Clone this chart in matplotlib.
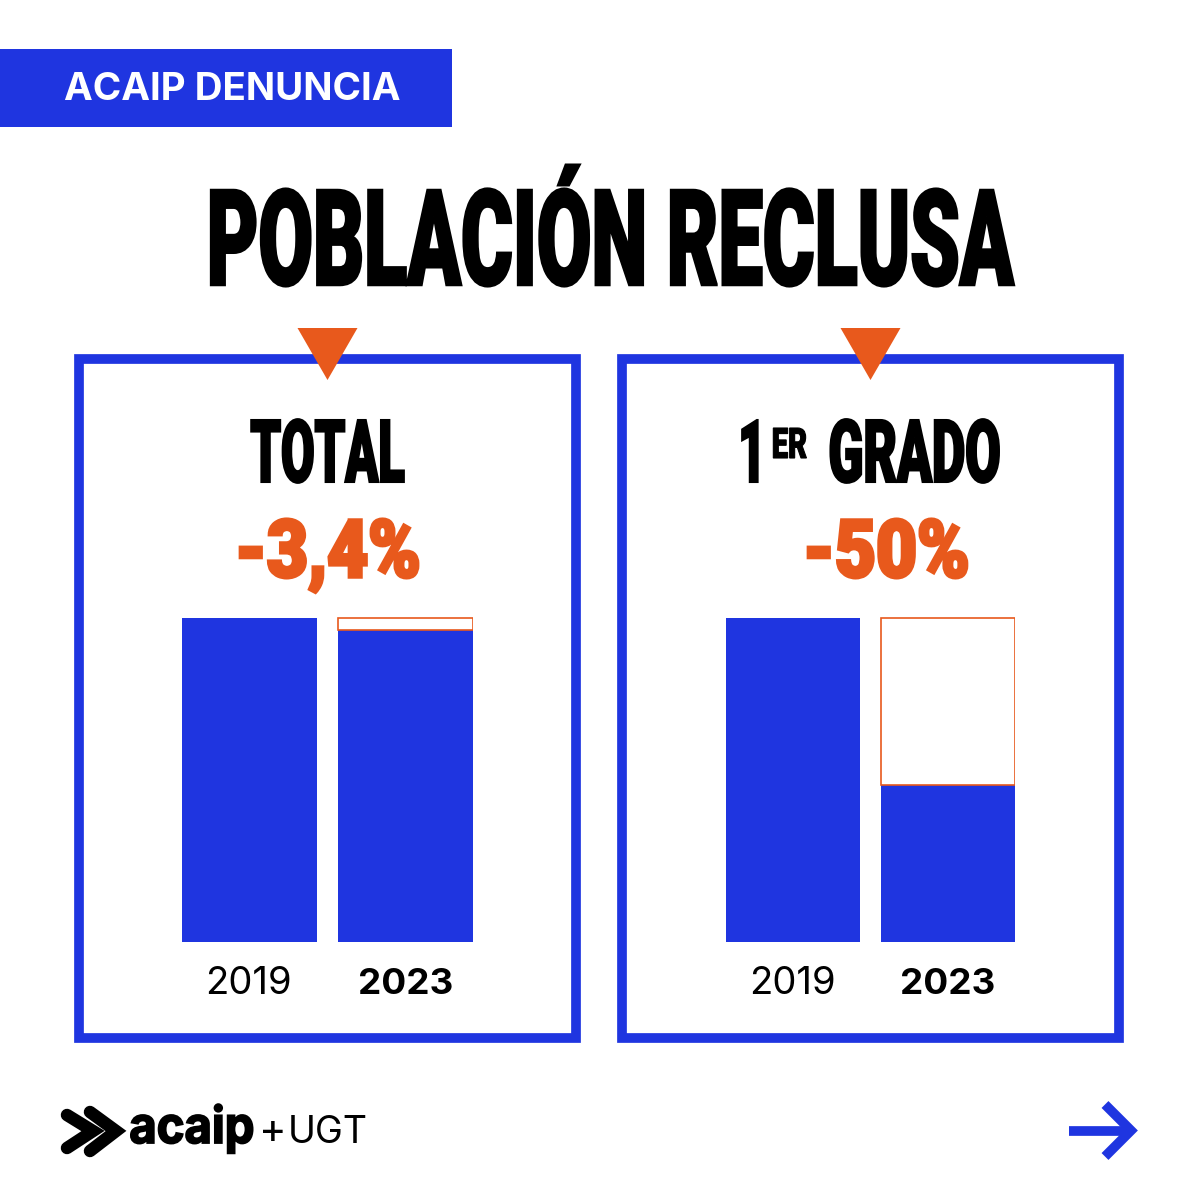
import matplotlib
matplotlib.use("Agg")
import matplotlib.pyplot as plt
from matplotlib.patches import Rectangle, Polygon
from matplotlib.transforms import Affine2D
import matplotlib.patheffects as pe

# data
years = ["2019", "2023"]
total_vals = [100, 96.2]
grado_vals = [100, 48.3]
total_label = "-3,4%"
grado_label = "-50%"

blue = "#1f35e0"
orange = "#e8591c"

plt.rcParams['font.family'] = ['Liberation Sans', 'DejaVu Sans']

fig = plt.figure(figsize=(12, 12), dpi=100)
bg = fig.add_axes([0, 0, 1, 1])
bg.set_xlim(0, 1200)
bg.set_ylim(1200, 0)
bg.axis("off")


# no condensed display font here, so pull the glyphs up from the baseline and fatten them
class Stretch(pe.AbstractPathEffect):
    def __init__(self, text, sy, stroke):
        super().__init__()
        self.text = text
        self.sy = sy
        self.stroke = stroke

    def draw_path(self, renderer, gc, tpath, affine, rgbFace=None):
        y0 = self.text.get_transform().transform(self.text.get_position())[1]
        tall = affine + Affine2D().translate(0, -y0).scale(1, self.sy).translate(0, y0)
        gc0 = renderer.new_gc()
        gc0.copy_properties(gc)
        gc0.set_linewidth(self.stroke)
        gc0.set_foreground(rgbFace)
        gc0.set_joinstyle("miter")
        renderer.draw_path(gc0, tpath, tall, rgbFace)
        gc0.restore()


def heavy(x, y, s, size, cap_px, color="black", stroke=1.5, family="Roboto", weight="black"):
    t = bg.text(x, y, s, fontsize=size, color=color, ha="center", va="baseline",
                fontweight=weight, family=family)
    sy = cap_px / (size * 100 / 72 * 0.711)
    t.set_path_effects([Stretch(t, sy, stroke)])
    return t


# header band
bg.add_patch(Rectangle((0, 49), 452, 78, color=blue, lw=0))
bg.text(232, 90, "ACAIP DENUNCIA", color="white", fontsize=27.75, ha="center", va="center",
        family="Inter", fontweight="bold")

heavy(610, 285, "POBLACIÓN RECLUSA", 57, 95, stroke=1.8)

# panels
for x0, x1 in [(79, 576), (622, 1119)]:
    bg.add_patch(Rectangle((x0, 359), x1 - x0, 679, fill=False, ec=blue, lw=7))
    cx = (x0 + x1) / 2
    bg.add_patch(Polygon([(cx - 30, 328), (cx + 30, 328), (cx, 380)], color=orange, lw=0))

heavy(327.5, 482, "TOTAL", 35, 62)
heavy(752, 482, "1", 34, 62)
heavy(789.5, 458, "ER", 21, 30, stroke=0.8)
heavy(914.5, 482, "GRADO", 37, 62)
heavy(328, 577, total_label, 51, 57, color=orange, stroke=2.5)
heavy(886.5, 577, grado_label, 51, 57, color=orange, stroke=2.5)


def bars(left, width, vals):
    ax = fig.add_axes([left / 1200, 1 - 942 / 1200, width / 1200, 325 / 1200])
    ax.bar([0, 1], vals, width=0.866, color=blue, lw=0)
    ax.bar([1], [100 - vals[1]], bottom=[vals[1]], width=0.866, facecolor="white",
           edgecolor=orange, lw=1.2)
    ax.set_xlim(-0.433, 1.433)
    ax.set_ylim(0, 100.2)
    ax.axis("off")


bars(182, 291, total_vals)
bars(726, 289, grado_vals)

for x19, x23 in [(248, 405.5), (792, 948)]:
    bg.text(x19, 984, years[0], fontsize=27.5, ha="center", va="center", family="Inter")
    bg.text(x23, 984, years[1], fontsize=26.5, ha="center", va="center", family="Inter", fontweight="bold")

# footer logo
for xs, ys in [([67, 93, 67], [1115, 1131, 1148]), ([90, 116, 90], [1112, 1131, 1151])]:
    bg.plot(xs, ys, color="black", lw=9, solid_joinstyle="miter", solid_capstyle="round")
heavy(192, 1143, "acaip", 34, 36, family="Inter", weight="bold", stroke=1.3)
bg.text(273, 1143, "+", fontsize=30, ha="center", va="baseline", family="Inter")
bg.text(328, 1143, "UGT", fontsize=27, ha="center", va="baseline", family="Inter")

# arrow
bg.plot([1069, 1130], [1130.5, 1130.5], color=blue, lw=7, solid_capstyle="butt")
bg.plot([1105, 1131, 1105], [1104.5, 1130.5, 1156.5], color=blue, lw=7,
        solid_joinstyle="miter", solid_capstyle="butt")

fig.savefig("out.png", dpi=100)
